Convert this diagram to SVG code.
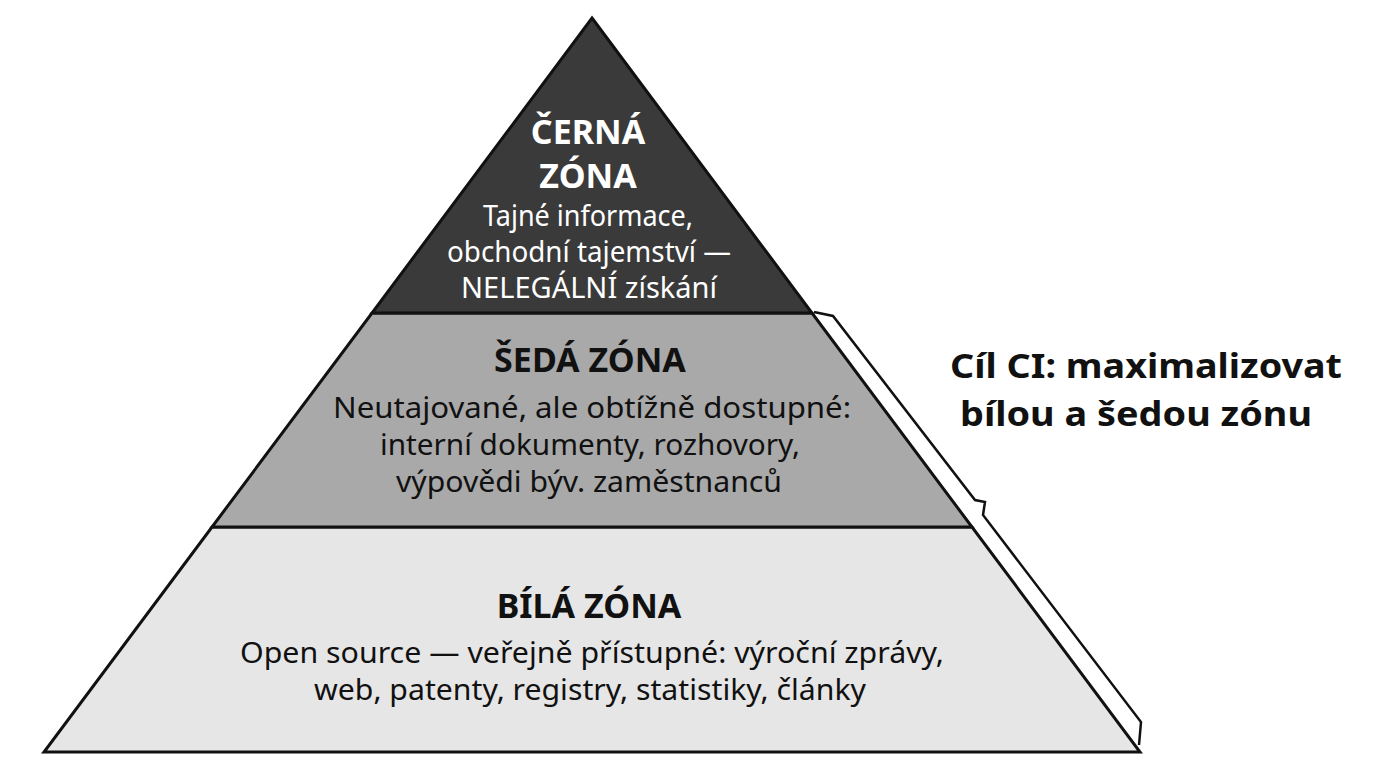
<svg xmlns="http://www.w3.org/2000/svg" width="1376" height="768" viewBox="0 0 1376 768">
<style>
text{font-family:"Noto Sans","Open Sans",sans-serif;text-anchor:middle}
.t{font-weight:bold;font-size:34px}
.b{font-size:29px}
.w{fill:#fff}
.k{fill:#111}
.z{stroke:#111;stroke-width:3;stroke-linejoin:miter}
</style>
<rect width="1376" height="768" fill="#fff"/>
<g id="bila"><polygon class="z" fill="#e6e6e6" points="212,527 972,527 1140,752 44,752"/>
<text class="t k" x="589" y="618">BÍLÁ ZÓNA</text>
<text class="b k" x="592" y="663" textLength="704" lengthAdjust="spacingAndGlyphs">Open source — veřejně přístupné: výroční zprávy,</text>
<text class="b k" x="590" y="700" textLength="552" lengthAdjust="spacingAndGlyphs">web, patenty, registry, statistiky, články</text></g>
<g id="seda"><polygon class="z" fill="#a9a9a9" points="372,313 812,313 972,527 212,527"/>
<text class="t k" x="590" y="372">ŠEDÁ ZÓNA</text>
<text class="b k" x="592" y="418" textLength="518" lengthAdjust="spacingAndGlyphs">Neutajované, ale obtížně dostupné:</text>
<text class="b k" x="590" y="455" textLength="420" lengthAdjust="spacingAndGlyphs">interní dokumenty, rozhovory,</text>
<text class="b k" x="589" y="492" textLength="386" lengthAdjust="spacingAndGlyphs">výpovědi býv. zaměstnanců</text></g>
<g id="cerna"><polygon class="z" fill="#3a3a3a" points="592,18 812,313 372,313"/>
<text class="t w" x="588" y="144">ČERNÁ</text>
<text class="t w" x="588" y="188">ZÓNA</text>
<text class="b w" x="588" y="226" textLength="210" lengthAdjust="spacingAndGlyphs">Tajné informace,</text>
<text class="b w" x="589" y="262" textLength="284" lengthAdjust="spacingAndGlyphs">obchodní tajemství —</text>
<text class="b w" x="589" y="298" textLength="256" lengthAdjust="spacingAndGlyphs">NELEGÁLNÍ získání</text></g>
<g id="connectors"><path d="M814,312 L833,316 L975,500 L985,502 L983,515 L1141,722 L1139,745" fill="none" stroke="#111" stroke-width="2.5"/></g>
<g id="label"><text class="t k" x="1146" y="378" font-size="39" textLength="392" lengthAdjust="spacingAndGlyphs">Cíl CI: maximalizovat</text>
<text class="t k" x="1136" y="426" font-size="39" textLength="352" lengthAdjust="spacingAndGlyphs">bílou a šedou zónu</text></g>
</svg>
